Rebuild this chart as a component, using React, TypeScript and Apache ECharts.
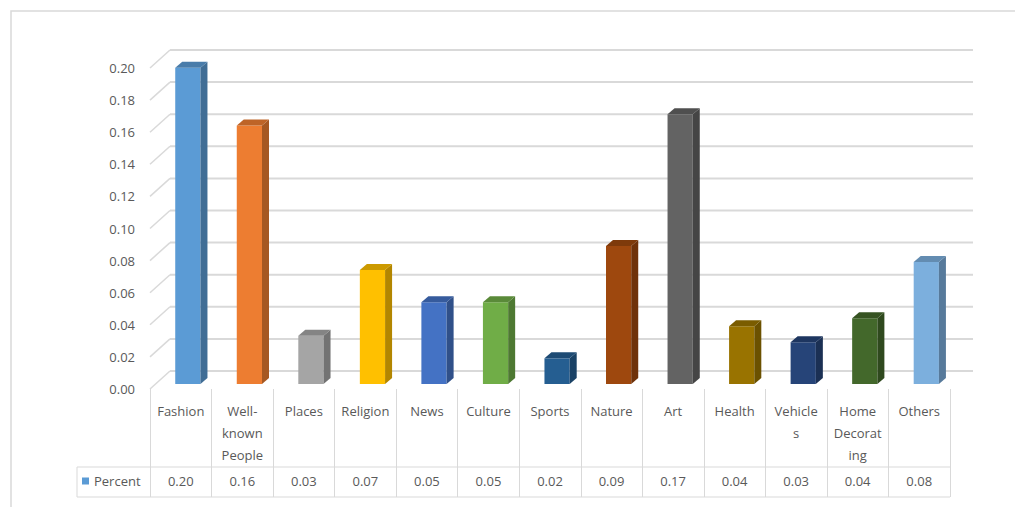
import React, { useEffect, useRef } from "react";
import * as echarts from "echarts";

// Share of posts per content category
const categories = [
  "Fashion",
  "Well-known People",
  "Places",
  "Religion",
  "News",
  "Culture",
  "Sports",
  "Nature",
  "Art",
  "Health",
  "Vehicles",
  "Home Decorating",
  "Others",
];
const percent = [0.197, 0.161, 0.03, 0.071, 0.051, 0.051, 0.016, 0.086, 0.168, 0.036, 0.026, 0.041, 0.076];
const barColors = [
  "#5B9BD5",
  "#ED7D31",
  "#A5A5A5",
  "#FFC000",
  "#4472C4",
  "#70AD47",
  "#255E91",
  "#9E480E",
  "#636363",
  "#997300",
  "#264478",
  "#43682B",
  "#7CAFDD",
];
const yTicks = [0, 0.02, 0.04, 0.06, 0.08, 0.1, 0.12, 0.14, 0.16, 0.18, 0.2];

// how long category names wrap inside their table cells
const wrappedLabels: Record<string, string> = {
  "Well-known People": "Well-\nknown\nPeople",
  Vehicles: "Vehicle\ns",
  "Home Decorating": "Home\nDecorat\ning",
};

const FONT = "'Open Sans', 'Liberation Sans', sans-serif";
const TEXT = "#595959";
const LINE = "#d9d9d9";

// 3D look: back wall offset and column depth
const WALL_DX = 20;
const WALL_DY = -18;
const WALL_EXTRA_RIGHT = 23;
const BAR_FRONT_DY = -5;
const BAR_DX = 7;
const BAR_DY = -6;

function shade(hex: string, f: number): string {
  const n = parseInt(hex.slice(1), 16);
  const r = Math.round(((n >> 16) & 255) * f);
  const g = Math.round(((n >> 8) & 255) * f);
  const b = Math.round((n & 255) * f);
  return `rgb(${r},${g},${b})`;
}

export default function App() {
  const ref = useRef<HTMLDivElement>(null);

  useEffect(() => {
    document.body.style.margin = "0";
    if (!ref.current) return;
    const chart = echarts.init(ref.current, undefined, { renderer: "svg" });

    const option: any = {
      animation: false,
      backgroundColor: "#ffffff",
      textStyle: { fontFamily: FONT },
      grid: { left: 150, top: 68, width: 800, height: 321, containLabel: false },
      legend: {
        data: ["Percent"],
        left: 82,
        top: 474,
        padding: 0,
        icon: "rect",
        itemWidth: 7,
        itemHeight: 7,
        itemGap: 5,
        textStyle: { fontFamily: FONT, fontSize: 13, color: TEXT, lineHeight: 14 },
        selectedMode: false,
      },
      xAxis: [
        {
          type: "category",
          data: categories,
          position: "bottom",
          axisLine: { show: false },
          axisTick: { show: true, length: 108, lineStyle: { color: LINE, width: 1 } },
          axisLabel: {
            interval: 0,
            margin: 11,
            lineHeight: 22,
            fontSize: 13,
            fontFamily: FONT,
            color: TEXT,
            formatter: (v: string) => wrappedLabels[v] || v,
          },
        },
        {
          type: "category",
          data: categories,
          position: "bottom",
          axisLine: { show: false },
          axisTick: { show: false },
          axisLabel: {
            interval: 0,
            margin: 85,
            lineHeight: 14,
            fontSize: 13,
            fontFamily: FONT,
            color: TEXT,
            formatter: (_v: string, i: number) => percent[i].toFixed(2),
          },
        },
      ],
      yAxis: {
        type: "value",
        min: 0,
        max: 0.2,
        interval: 0.02,
        axisLine: { show: false },
        axisTick: { show: false },
        splitLine: { show: false },
        axisLabel: {
          margin: 15,
          fontSize: 13,
          fontFamily: FONT,
          color: TEXT,
          formatter: (v: number) => v.toFixed(2),
        },
      },
      series: [
        {
          // back wall gridlines and side-wall diagonals
          type: "custom",
          silent: true,
          z: 1,
          data: yTicks.map((v) => [0, v]),
          renderItem: (params: any, api: any) => {
            const cs = params.coordSys;
            const y = api.coord([0, api.value(1)])[1];
            const x0 = cs.x;
            const x1 = cs.x + cs.width + WALL_EXTRA_RIGHT;
            return {
              type: "group",
              children: [
                {
                  type: "line",
                  shape: { x1: x0, y1: y, x2: x0 + WALL_DX, y2: y + WALL_DY },
                  style: { stroke: LINE, lineWidth: 1.5 },
                },
                {
                  type: "line",
                  shape: { x1: x0 + WALL_DX, y1: y + WALL_DY, x2: x1, y2: y + WALL_DY },
                  style: { stroke: LINE, lineWidth: 2 },
                },
              ],
            };
          },
        },
        {
          name: "Percent",
          type: "custom",
          z: 3,
          itemStyle: { color: barColors[0] },
          data: percent.map((v, i) => [i, v]),
          renderItem: (params: any, api: any) => {
            const i = api.value(0);
            const v = api.value(1);
            const band = api.size([1, 0])[0];
            const center = api.coord([i, 0]);
            const colStart = center[0] - band / 2;
            const w = band * 0.41;
            const left = colStart + band * 0.41;
            const right = left + w;
            const base = center[1] + BAR_FRONT_DY;
            const top = api.coord([i, v])[1] + BAR_FRONT_DY;
            const c = barColors[i];
            return {
              type: "group",
              children: [
                {
                  type: "rect",
                  shape: { x: left, y: top, width: w, height: base - top },
                  style: { fill: c },
                },
                {
                  type: "polygon",
                  shape: {
                    points: [
                      [right, top],
                      [right + BAR_DX, top + BAR_DY],
                      [right + BAR_DX, base + BAR_DY],
                      [right, base],
                    ],
                  },
                  style: { fill: shade(c, 0.7) },
                },
                {
                  type: "polygon",
                  shape: {
                    points: [
                      [left, top],
                      [left + BAR_DX, top + BAR_DY],
                      [right + BAR_DX, top + BAR_DY],
                      [right, top],
                    ],
                  },
                  style: { fill: shade(c, 0.8) },
                },
              ],
            };
          },
        },
      ],
      graphic: [
        {
          type: "rect",
          silent: true,
          shape: { x: 11, y: 11, width: 1030, height: 520 },
          style: { fill: "none", stroke: LINE, lineWidth: 1.5 },
        },
        {
          type: "line",
          silent: true,
          shape: { x1: 77, y1: 467, x2: 950, y2: 467 },
          style: { stroke: LINE, lineWidth: 1 },
        },
        {
          type: "line",
          silent: true,
          shape: { x1: 77, y1: 497, x2: 950, y2: 497 },
          style: { stroke: LINE, lineWidth: 1 },
        },
        {
          type: "line",
          silent: true,
          shape: { x1: 77, y1: 467, x2: 77, y2: 497 },
          style: { stroke: LINE, lineWidth: 1 },
        },
      ],
    };

    chart.setOption(option);
    return () => chart.dispose();
  }, []);

  return <div ref={ref} style={{ width: 1015, height: 507 }} />;
}
